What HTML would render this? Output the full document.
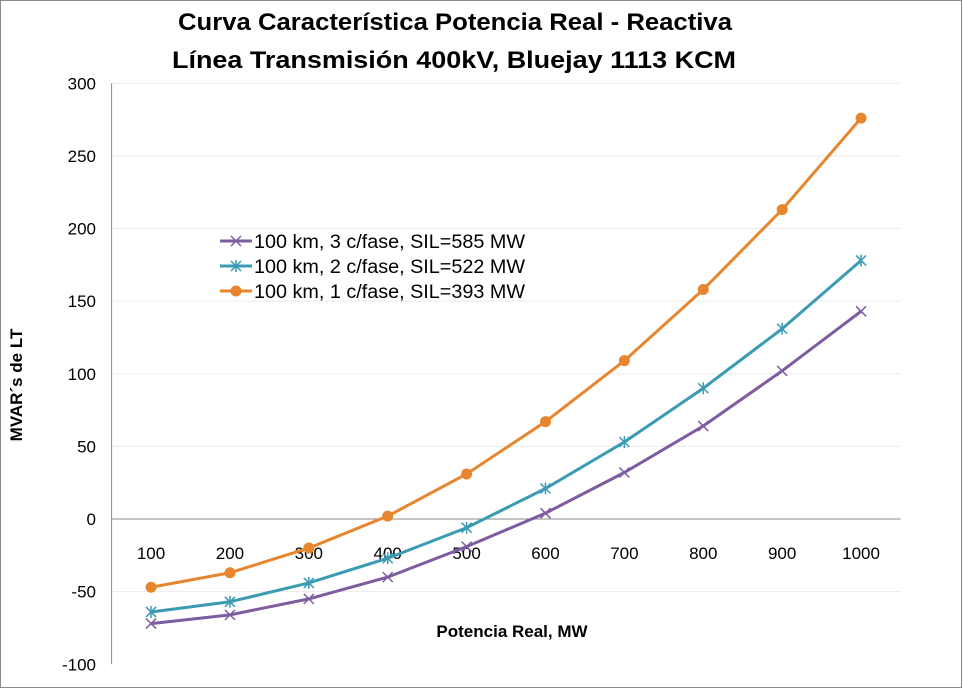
<!DOCTYPE html>
<html><head><meta charset="utf-8"><style>
body{margin:0;background:#fff;}
svg text{font-family:"Liberation Sans",sans-serif;}
</style></head><body>
<svg width="963" height="689" viewBox="0 0 963 689">
<rect x="0.5" y="0.5" width="961" height="687" fill="#fff" stroke="#888"/>
<text x="178" y="30" font-size="24" font-weight="bold" textLength="554" lengthAdjust="spacingAndGlyphs" fill="#000">Curva Característica Potencia Real - Reactiva</text>
<text x="172" y="68" font-size="24" font-weight="bold" textLength="564" lengthAdjust="spacingAndGlyphs" fill="#000">Línea  Transmisión 400kV,  Bluejay 1113 KCM</text>
<text transform="translate(22,385) rotate(-90)" font-size="17" font-weight="bold" text-anchor="middle">MVAR´s de LT</text>
<text x="512" y="637" font-size="17" font-weight="bold" text-anchor="middle">Potencia Real, MW</text>
<g id="grid"></g><g id="axes"></g><g id="series"></g><g id="legend"></g>
</svg>
<script>
const categories=[100,200,300,400,500,600,700,800,900,1000];
const yTicks=[300,250,200,150,100,50,0,-50,-100];
const s3=[-72,-66,-55,-40,-19,4,32,64,102,143];
const s2=[-64,-57,-44,-27,-6,21,53,90,131,178];
const s1=[-47,-37,-20,2,31,67,109,158,213,276];
const names=["100 km, 3 c/fase, SIL=585 MW","100 km, 2 c/fase, SIL=522 MW","100 km, 1 c/fase, SIL=393 MW"];
const NS="http://www.w3.org/2000/svg";
const left=111.6,right=900.5,step=(right-left)/categories.length;
function X(i){return left+step*(i+0.5);}
function Y(v){return 519-v*(145.25/100);}
function mk(tag,attrs,parent){const e=document.createElementNS(NS,tag);for(const k in attrs)e.setAttribute(k,attrs[k]);document.getElementById(parent).appendChild(e);return e;}
yTicks.forEach(t=>{
  if(t!==0&&t!==-100){const g=mk('line',{x1:left,x2:right,y1:Y(t),y2:Y(t),stroke:'#ececec'},'grid');
  
  }
  const tx=mk('text',{x:96,y:Y(t)+6,'font-size':17,'text-anchor':'end'},'axes');tx.textContent=t;
  
  
});
let a=mk('line',{x1:left,x2:left,y1:Y(300),y2:Y(-100),stroke:'#888'},'axes');


a=mk('line',{x1:left,x2:right,y1:Y(0),y2:Y(0),stroke:'#888'},'axes');


categories.forEach((c,i)=>{
  const t=mk('text',{x:X(i),y:559,'font-size':17,'text-anchor':'middle'},'axes');t.textContent=c;
  
  
});
function marker(kind,x,y,color,parent){
  if(kind==='x'){return mk('path',{d:`M${x-5},${y-5}L${x+5},${y+5}M${x-5},${y+5}L${x+5},${y-5}`,stroke:color,'stroke-width':1.5,fill:'none'},parent);}
  if(kind==='star'){return mk('path',{d:`M${x-5},${y-5}L${x+5},${y+5}M${x-5},${y+5}L${x+5},${y-5}M${x},${y-6}L${x},${y+6}`,stroke:color,'stroke-width':1.5,fill:'none'},parent);}
  return mk('circle',{cx:x,cy:y,r:5.5,fill:color},parent);
}
const ser=[[s3,'#7d5ca0','x'],[s2,'#3a9bb3','star'],[s1,'#e8862f','dot']];
ser.forEach(([d,col,k],si)=>{
  const p=mk('polyline',{points:d.map((v,i)=>X(i)+','+Y(v)).join(' '),fill:'none',stroke:col,'stroke-width':3},'series');
  
  
  d.forEach((v,i)=>{const m=marker(k,X(i),Y(v),col,'series');
    
    });
  const ly=241+si*25;
  const l=mk('line',{x1:220,x2:252,y1:ly,y2:ly,stroke:col,'stroke-width':3},'legend');
  
  
  const lm=marker(k,236,ly,col,'legend');
  
  
  const lt=mk('text',{x:254,y:ly+7,'font-size':19,textLength:271,lengthAdjust:'spacingAndGlyphs'},'legend');lt.textContent=names[si];
  
  
});
</script>
</body></html>
